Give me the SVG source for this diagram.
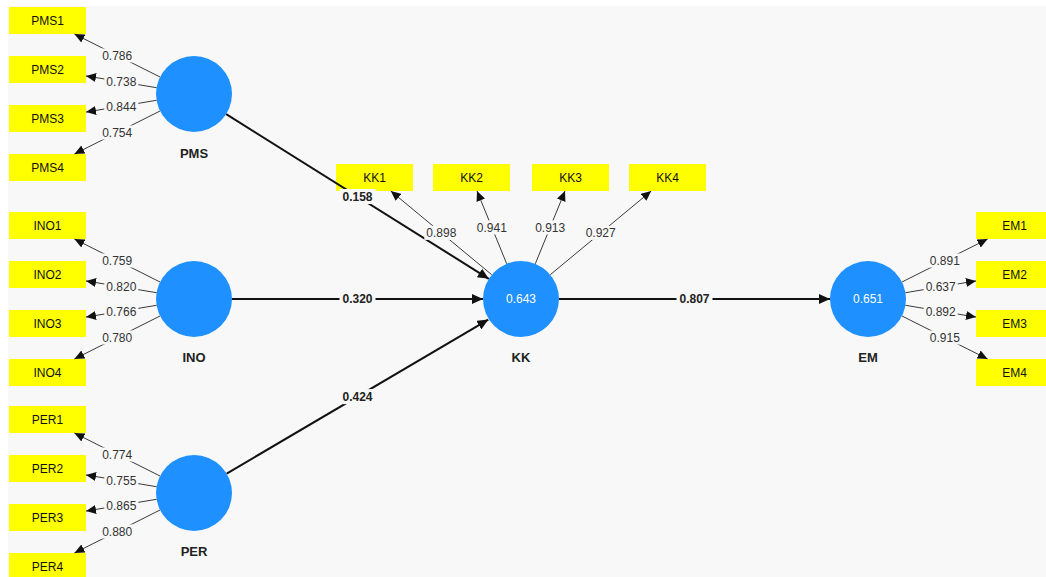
<svg xmlns="http://www.w3.org/2000/svg" width="1046" height="577" viewBox="0 0 1046 577">
<style>
text{font-family:"Liberation Sans",Arial,Helvetica,sans-serif;text-anchor:middle}
.bg{fill:#f8f8f8}
.ind{fill:#ffff00}
.indt{font-size:12px;fill:#111}
.lv{fill:#1e90ff}
.lvn{font-size:13px;font-weight:bold;fill:#222}
.r2{font-size:12px;fill:#ffffff}
.ld{stroke:#3a3a3a;stroke-width:1;fill:none}
.pth{stroke:#111;stroke-width:2;fill:none}
.lbg{fill:#f8f8f8}
.ldt{font-size:12px;fill:#333}
.pt{font-size:12px;font-weight:bold;fill:#222}
</style>
<defs>
<marker id="ah" markerUnits="userSpaceOnUse" markerWidth="10" markerHeight="9" refX="10" refY="4.5" orient="auto"><path d="M0,0 L10,4.5 L0,9 Z" fill="#111"/></marker>
<marker id="ahb" markerUnits="userSpaceOnUse" markerWidth="11" markerHeight="10" refX="11" refY="5" orient="auto"><path d="M0,0 L11,5 L0,10 Z" fill="#111"/></marker>
</defs>
<rect class="bg" x="8" y="6" width="1038" height="571"/>

<g id="PMS"><circle class="lv" cx="194" cy="94" r="38"/><text class="lvn" x="194" y="158">PMS</text></g>
<g id="INO"><circle class="lv" cx="194" cy="299" r="38"/><text class="lvn" x="194" y="362">INO</text></g>
<g id="PER"><circle class="lv" cx="194" cy="493" r="38"/><text class="lvn" x="194" y="556">PER</text></g>
<g id="KK"><circle class="lv" cx="521" cy="299" r="38"/><text class="r2" x="521" y="303.3">0.643</text><text class="lvn" x="521" y="362">KK</text></g>
<g id="EM"><circle class="lv" cx="868" cy="299" r="38"/><text class="r2" x="868" y="303.3">0.651</text><text class="lvn" x="868" y="362">EM</text></g>

<g id="PMS1"><rect class="ind" x="9" y="7" width="77" height="27"/><text class="indt" x="47.5" y="24.8">PMS1</text></g>
<g id="PMS2"><rect class="ind" x="9" y="56" width="77" height="27"/><text class="indt" x="47.5" y="73.8">PMS2</text></g>
<g id="PMS3"><rect class="ind" x="9" y="105" width="77" height="27"/><text class="indt" x="47.5" y="122.8">PMS3</text></g>
<g id="PMS4"><rect class="ind" x="9" y="154" width="77" height="27"/><text class="indt" x="47.5" y="171.8">PMS4</text></g>
<g id="INO1"><rect class="ind" x="9" y="212" width="77" height="27"/><text class="indt" x="47.5" y="229.8">INO1</text></g>
<g id="INO2"><rect class="ind" x="9" y="261" width="77" height="27"/><text class="indt" x="47.5" y="278.8">INO2</text></g>
<g id="INO3"><rect class="ind" x="9" y="310" width="77" height="27"/><text class="indt" x="47.5" y="327.8">INO3</text></g>
<g id="INO4"><rect class="ind" x="9" y="359" width="77" height="27"/><text class="indt" x="47.5" y="376.8">INO4</text></g>
<g id="PER1"><rect class="ind" x="9" y="406" width="77" height="27"/><text class="indt" x="47.5" y="423.8">PER1</text></g>
<g id="PER2"><rect class="ind" x="9" y="455" width="77" height="27"/><text class="indt" x="47.5" y="472.8">PER2</text></g>
<g id="PER3"><rect class="ind" x="9" y="504" width="77" height="27"/><text class="indt" x="47.5" y="521.8">PER3</text></g>
<g id="PER4"><rect class="ind" x="9" y="553" width="77" height="27"/><text class="indt" x="47.5" y="570.8">PER4</text></g>
<g id="KK1"><rect class="ind" x="336" y="164" width="77" height="27"/><text class="indt" x="374.5" y="181.8">KK1</text></g>
<g id="KK2"><rect class="ind" x="433" y="164" width="77" height="27"/><text class="indt" x="471.5" y="181.8">KK2</text></g>
<g id="KK3"><rect class="ind" x="532" y="164" width="77" height="27"/><text class="indt" x="570.5" y="181.8">KK3</text></g>
<g id="KK4"><rect class="ind" x="629" y="164" width="77" height="27"/><text class="indt" x="667.5" y="181.8">KK4</text></g>
<g id="EM1"><rect class="ind" x="976" y="212" width="77" height="27"/><text class="indt" x="1014.5" y="229.8">EM1</text></g>
<g id="EM2"><rect class="ind" x="976" y="261" width="77" height="27"/><text class="indt" x="1014.5" y="278.8">EM2</text></g>
<g id="EM3"><rect class="ind" x="976" y="310" width="77" height="27"/><text class="indt" x="1014.5" y="327.8">EM3</text></g>
<g id="EM4"><rect class="ind" x="976" y="359" width="77" height="27"/><text class="indt" x="1014.5" y="376.8">EM4</text></g>

<g id="connectors">
<line class="ld" x1="160" y1="77" x2="74.4" y2="34" marker-end="url(#ah)"/>
<line class="ld" x1="156.5" y1="87.7" x2="86" y2="75.9" marker-end="url(#ah)"/>
<line class="ld" x1="156.5" y1="100.3" x2="86" y2="112.1" marker-end="url(#ah)"/>
<line class="ld" x1="160" y1="111" x2="74.4" y2="154" marker-end="url(#ah)"/>
<line class="ld" x1="160" y1="282" x2="74.4" y2="239" marker-end="url(#ah)"/>
<line class="ld" x1="156.5" y1="292.7" x2="86" y2="280.9" marker-end="url(#ah)"/>
<line class="ld" x1="156.5" y1="305.3" x2="86" y2="317.1" marker-end="url(#ah)"/>
<line class="ld" x1="160" y1="316" x2="74.4" y2="359" marker-end="url(#ah)"/>
<line class="ld" x1="160" y1="476" x2="74.4" y2="433" marker-end="url(#ah)"/>
<line class="ld" x1="156.5" y1="486.7" x2="86" y2="474.9" marker-end="url(#ah)"/>
<line class="ld" x1="156.5" y1="499.3" x2="86" y2="511.1" marker-end="url(#ah)"/>
<line class="ld" x1="160" y1="510" x2="74.4" y2="553" marker-end="url(#ah)"/>
<line class="ld" x1="491.7" y1="274.7" x2="390.8" y2="191" marker-end="url(#ah)"/>
<line class="ld" x1="506.7" y1="263.8" x2="477" y2="191" marker-end="url(#ah)"/>
<line class="ld" x1="535.3" y1="263.8" x2="565" y2="191" marker-end="url(#ah)"/>
<line class="ld" x1="550.3" y1="274.7" x2="651.2" y2="191" marker-end="url(#ah)"/>
<line class="ld" x1="902" y1="282" x2="987.6" y2="239" marker-end="url(#ah)"/>
<line class="ld" x1="905.5" y1="292.7" x2="976" y2="280.9" marker-end="url(#ah)"/>
<line class="ld" x1="905.5" y1="305.3" x2="976" y2="317.1" marker-end="url(#ah)"/>
<line class="ld" x1="902" y1="316" x2="987.6" y2="359" marker-end="url(#ah)"/>

<line class="pth" x1="226.2" y1="114.2" x2="488.8" y2="278.8" marker-end="url(#ahb)"/>
<line class="pth" x1="232" y1="299" x2="483" y2="299" marker-end="url(#ahb)"/>
<line class="pth" x1="226.7" y1="473.6" x2="488.3" y2="319.6" marker-end="url(#ahb)"/>
<line class="pth" x1="559" y1="299" x2="830" y2="299" marker-end="url(#ahb)"/>

<g id="loading-labels">
<rect class="lbg" x="100.2" y="48.5" width="34" height="14"/><text class="ldt" x="117.2" y="59.8">0.786</text>
<rect class="lbg" x="104.3" y="74.8" width="34" height="14"/><text class="ldt" x="121.3" y="86.1">0.738</text>
<rect class="lbg" x="104.3" y="99.2" width="34" height="14"/><text class="ldt" x="121.3" y="110.5">0.844</text>
<rect class="lbg" x="100.2" y="125.5" width="34" height="14"/><text class="ldt" x="117.2" y="136.8">0.754</text>
<rect class="lbg" x="100.2" y="253.5" width="34" height="14"/><text class="ldt" x="117.2" y="264.8">0.759</text>
<rect class="lbg" x="104.3" y="279.8" width="34" height="14"/><text class="ldt" x="121.3" y="291.1">0.820</text>
<rect class="lbg" x="104.3" y="304.2" width="34" height="14"/><text class="ldt" x="121.3" y="315.5">0.766</text>
<rect class="lbg" x="100.2" y="330.5" width="34" height="14"/><text class="ldt" x="117.2" y="341.8">0.780</text>
<rect class="lbg" x="100.2" y="447.5" width="34" height="14"/><text class="ldt" x="117.2" y="458.8">0.774</text>
<rect class="lbg" x="104.3" y="473.8" width="34" height="14"/><text class="ldt" x="121.3" y="485.1">0.755</text>
<rect class="lbg" x="104.3" y="498.2" width="34" height="14"/><text class="ldt" x="121.3" y="509.5">0.865</text>
<rect class="lbg" x="100.2" y="524.5" width="34" height="14"/><text class="ldt" x="117.2" y="535.8">0.880</text>
<rect class="lbg" x="424.3" y="225.9" width="34" height="14"/><text class="ldt" x="441.3" y="237.2">0.898</text>
<rect class="lbg" x="474.8" y="220.4" width="34" height="14"/><text class="ldt" x="491.8" y="231.7">0.941</text>
<rect class="lbg" x="533.2" y="220.4" width="34" height="14"/><text class="ldt" x="550.2" y="231.7">0.913</text>
<rect class="lbg" x="583.7" y="225.9" width="34" height="14"/><text class="ldt" x="600.7" y="237.2">0.927</text>
<rect class="lbg" x="927.8" y="253.5" width="34" height="14"/><text class="ldt" x="944.8" y="264.8">0.891</text>
<rect class="lbg" x="923.7" y="279.8" width="34" height="14"/><text class="ldt" x="940.7" y="291.1">0.637</text>
<rect class="lbg" x="923.7" y="304.2" width="34" height="14"/><text class="ldt" x="940.7" y="315.5">0.892</text>
<rect class="lbg" x="927.8" y="330.5" width="34" height="14"/><text class="ldt" x="944.8" y="341.8">0.915</text>
</g>
<g id="path-labels">
<rect class="lbg" x="339.5" y="189" width="36" height="15"/><text class="pt" x="357.5" y="200.8">0.158</text>
<rect class="lbg" x="339.5" y="291.5" width="36" height="15"/><text class="pt" x="357.5" y="303.3">0.320</text>
<rect class="lbg" x="339.5" y="389.1" width="36" height="15"/><text class="pt" x="357.5" y="400.9">0.424</text>
<rect class="lbg" x="676.5" y="291.5" width="36" height="15"/><text class="pt" x="694.5" y="303.3">0.807</text>
</g>
</g>
</svg>
